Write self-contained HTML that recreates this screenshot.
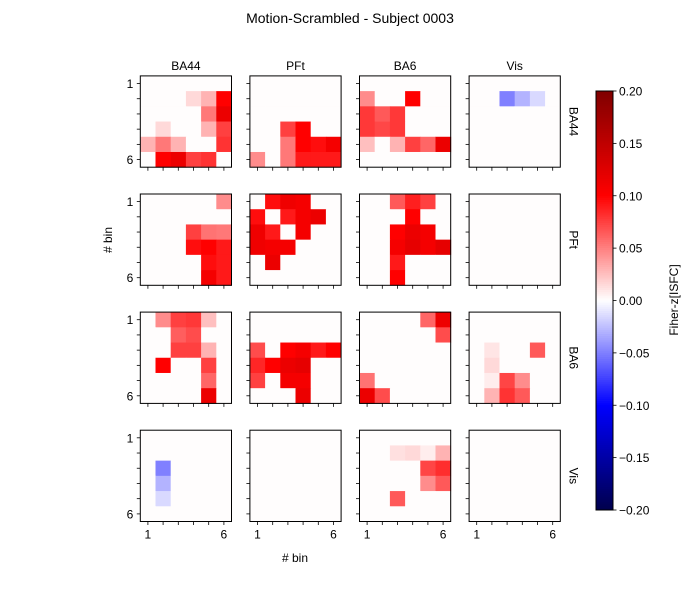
<!DOCTYPE html>
<html><head><meta charset="utf-8">
<style>body{margin:0;background:#fff}svg{font-family:"Liberation Sans",sans-serif}</style></head>
<body>
<svg id="fig" width="700" height="600" xmlns="http://www.w3.org/2000/svg">
<rect width="700" height="600" fill="#fff"/>
<text x="350" y="23" text-anchor="middle" font-size="14">Motion-Scrambled - Subject 0003</text>
<text x="295" y="562" text-anchor="middle" font-size="12"># bin</text>
<text transform="translate(112,240) rotate(-90)" text-anchor="middle" font-size="12"># bin</text>
<g id="panels"></g>
<g id="cbar"></g>
</svg>
<script>
const regions = ["BA44","PFt","BA6","Vis"];
const cbTicks = [0.20,0.15,0.10,0.05,0.00,-0.05,-0.10,-0.15,-0.20];
const cbTickLabels = ["0.20","0.15","0.10","0.05","0.00","\u22120.05","\u22120.10","\u22120.15","\u22120.20"];
const Z=[0,0,0,0,0,0];
const m00=[Z,[0,0,0,0.015,0.03,0.1],[0,0,0,0,0.053,0.115],[0,0.015,0,0,0.03,0.075],[0.03,0.053,0.03,0,0,0.08],[0,0.1,0.115,0.075,0.08,0]];
const m01=[Z,Z,Z,[0,0,0.075,0.1,0,0],[0,0,0.053,0.1,0.095,0.108],[0.045,0,0.053,0.09,0.09,0.09]];
const m02=[Z,[0.045,0,0,0.1,0,0],[0.078,0.065,0.078,0,0,0],[0.078,0.072,0.078,0,0,0],[0.025,0,0.03,0.075,0.06,0.115],Z];
const m03=[Z,[0,0,-0.05,-0.03,-0.015,0],Z,Z,Z,Z];
const m10=[[0,0,0,0,0,0.045],Z,[0,0,0,0.075,0.055,0.053],[0,0,0,0.095,0.1,0.09],[0,0,0,0,0.095,0.09],[0,0,0,0,0.108,0.09]];
const m11=[[0,0.095,0.112,0.108,0,0],[0.095,0,0.09,0.108,0.115,0],[0.112,0.09,0,0.108,0,0],[0.112,0.108,0.108,0,0,0],[0,0.115,0,0,0,0],Z];
const m12=[[0,0,0.065,0.088,0.075,0],[0,0,0,0.1,0,0],[0,0,0.1,0.115,0.108,0],[0,0,0.108,0.12,0.108,0.12],[0,0,0.09,0,0,0],[0,0,0.1,0,0,0]];
const m13=[Z,Z,Z,Z,Z,Z];
const m20=[[0,0.045,0.075,0.078,0.025,0],[0,0,0.063,0.07,0,0],[0,0,0.075,0.075,0.03,0],[0,0.1,0,0,0.075,0],[0,0,0,0,0.06,0],[0,0,0,0,0.115,0]];
const m21=[Z,Z,[0.07,0,0.1,0.108,0.09,0.1],[0.085,0.1,0.115,0.12,0,0],[0.075,0,0.108,0.108,0,0],[0,0,0,0.115,0,0]];
const m22=[[0,0,0,0,0.06,0.113],[0,0,0,0,0,0.07],Z,Z,[0.055,0,0,0,0,0],[0.115,0.07,0,0,0,0]];
const m23=[Z,Z,[0,0.01,0,0,0.065,0],[0,0.015,0,0,0,0],[0,0.007,0.073,0.045,0,0],[0,0.03,0.08,0.065,0,0]];
const m30=[Z,Z,[0,-0.05,0,0,0,0],[0,-0.03,0,0,0,0],[0,-0.015,0,0,0,0],Z];
const m31=[Z,Z,Z,Z,Z,Z];
const m32=[Z,[0,0,0.012,0.015,0.007,0.03],[0,0,0,0,0.073,0.082],[0,0,0,0,0.045,0.065],[0,0,0.065,0,0,0],Z];
const m33=[Z,Z,Z,Z,Z,Z];
const mats=[[m00,m01,m02,m03],[m10,m11,m12,m13],[m20,m21,m22,m23],[m30,m31,m32,m33]];
const vmin=-0.2,vmax=0.2;
function seismic(v){
  let t=(v-vmin)/(vmax-vmin); t=Math.max(0,Math.min(1,t));
  const s=[[0,0,0,0.3],[0.25,0,0,1],[0.5,1,1,1],[0.75,1,0,0],[1,0.5,0,0]];
  for(let i=0;i<4;i++){ if(t<=s[i+1][0]){const f=(t-s[i][0])/(s[i+1][0]-s[i][0]);
    const c=[1,2,3].map(k=>Math.round(255*(s[i][k]+f*(s[i+1][k]-s[i][k])))); if(v===0) return "rgb(255,253,253)"; return `rgb(${c})`;}}
  return "rgb(128,0,0)";
}
const NS="http://www.w3.org/2000/svg";
function mk(tag,attrs,parent){const e=document.createElementNS(NS,tag);for(const k in attrs)e.setAttribute(k,attrs[k]);parent.appendChild(e);return e;}
const P=document.getElementById('panels');
const px0=140.3,pdx=109.6,pw=91.2,py0=75.9,pdy=118.1,ph=91.3;
for(let r=0;r<4;r++)for(let c=0;c<4;c++){
  const x0=px0+c*pdx,y0=py0+r*pdy,cw=pw/6,chh=ph/6;
  const g=mk('g',{},P);
  
  
  const M=mats[r][c];
  for(let i=0;i<6;i++)for(let j=0;j<6;j++){
    const cell=mk('rect',{x:x0+j*cw,y:y0+i*chh,width:cw+0.4,height:chh+0.4,fill:seismic(M[i][j])},g);
    
    
  }
  mk('rect',{x:x0,y:y0,width:pw,height:ph,fill:'none',stroke:'#000','stroke-width':1},g);
  for(let k=0;k<6;k++){
    const tx=x0+(k+0.5)*cw, ty=y0+(k+0.5)*chh;
    mk('line',{x1:tx,x2:tx,y1:y0+ph,y2:y0+ph+3.5,stroke:'#000','stroke-width':0.8},g);
    mk('line',{x1:x0,x2:x0-3.5,y1:ty,y2:ty,stroke:'#000','stroke-width':0.8},g);
    if(c===0&&(k===0||k===5)){const t=mk('text',{x:x0-7,y:ty+4.5,'text-anchor':'end','font-size':12},g);t.textContent=String(k+1);
      }
    if(r===3&&(k===0||k===5)){const t=mk('text',{x:tx,y:y0+ph+17,'text-anchor':'middle','font-size':12},g);t.textContent=String(k+1);
      }
  }
  if(r===0){const t=mk('text',{x:x0+pw/2,y:y0-6,'text-anchor':'middle','font-size':12},g);t.textContent=regions[c];
    }
  if(c===3){const t=mk('text',{transform:`translate(${x0+pw+9},${y0+ph/2}) rotate(90)`,'text-anchor':'middle','font-size':12},g);t.textContent=regions[r];
    }
}
const C=document.getElementById('cbar');


const cx=596,cw2=17,cy0=91,cy1=510;
const cy=v=>cy0+(vmax-v)/(vmax-vmin)*(cy1-cy0);
for(let i=0;i<200;i++){const v=vmax-(i+0.5)*(vmax-vmin)/200;
  mk('rect',{x:cx,y:cy0+i*(cy1-cy0)/200,width:cw2,height:(cy1-cy0)/200+0.5,fill:seismic(v===0?1e-9:v)},C);}
mk('rect',{x:cx,y:cy0,width:cw2,height:cy1-cy0,fill:'none',stroke:'#000','stroke-width':1},C);
cbTicks.forEach((v,i)=>{const y=cy(v);
  mk('line',{x1:cx+cw2,x2:cx+cw2+3.5,y1:y,y2:y,stroke:'#000','stroke-width':0.8},C);
  const t=mk('text',{x:cx+cw2+6,y:y+4.5,'font-size':12},C);t.textContent=cbTickLabels[i];
  });
const cl=mk('text',{transform:'translate(678,300) rotate(-90)','text-anchor':'middle','font-size':12},C);
cl.textContent='Fiher-z[ISFC]';


</script>
</body></html>
